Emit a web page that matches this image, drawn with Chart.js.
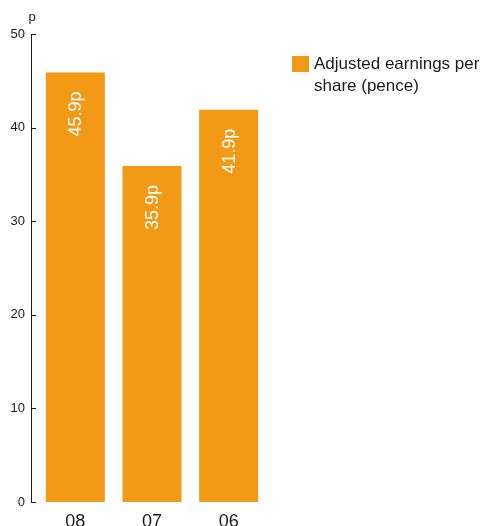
<!DOCTYPE html>
<html>
<head>
<meta charset="utf-8">
<title>Adjusted earnings per share</title>
<script src="https://cdn.jsdelivr.net/npm/chart.js@4.4.0/dist/chart.umd.min.js"></script>
<style>
  html, body { margin: 0; padding: 0; background: #fff; }
  #wrap { width: 482px; height: 526px; }
</style>
</head>
<body>
<div id="wrap"><canvas id="epsChart" width="482" height="526"></canvas></div>
<script>
const years = ["08", "07", "06"];
const epsValues = [45.9, 35.9, 41.9];
const yTicks = [0, 10, 20, 30, 40, 50];
const seriesName = ["Adjusted earnings per", "share (pence)"];

const ORANGE = "#F29A15";
const INK = "#1a1a1a";
const FONT = "'Liberation Sans', Arial, sans-serif";

// axis line with inward tick marks, plus the "p" unit on top
const axisPlugin = {
  id: "axisLine",
  afterDraw(chart) {
    const ctx = chart.ctx;
    const y = chart.scales.y;
    const x0 = chart.chartArea.left - 6;
    ctx.save();
    ctx.strokeStyle = INK;
    ctx.lineWidth = 1;
    ctx.beginPath();
    ctx.moveTo(x0 + 0.5, y.getPixelForValue(50));
    ctx.lineTo(x0 + 0.5, y.getPixelForValue(0));
    yTicks.forEach((t) => {
      const py = Math.round(y.getPixelForValue(t)) + 0.5;
      ctx.moveTo(x0, py);
      ctx.lineTo(x0 + 5, py);
    });
    ctx.stroke();
    ctx.fillStyle = INK;
    ctx.font = "13px " + FONT;
    ctx.textAlign = "center";
    ctx.textBaseline = "bottom";
    ctx.fillText("p", x0 + 1, y.getPixelForValue(50) - 10);
    ctx.restore();
  },
};

// value labels written upwards inside each bar
const valuePlugin = {
  id: "valueLabels",
  afterDatasetsDraw(chart) {
    const ctx = chart.ctx;
    const meta = chart.getDatasetMeta(0);
    ctx.save();
    ctx.fillStyle = "#fff";
    ctx.font = "18px " + FONT;
    ctx.textAlign = "right";
    ctx.textBaseline = "middle";
    meta.data.forEach((bar, i) => {
      ctx.save();
      ctx.translate(bar.x + 1, bar.y + 19);
      ctx.rotate(-Math.PI / 2);
      ctx.fillText(epsValues[i].toFixed(1) + "p", 0, 0);
      ctx.restore();
    });
    ctx.restore();
  },
};

const legendPlugin = {
  id: "sideLegend",
  afterDraw(chart) {
    const ctx = chart.ctx;
    ctx.save();
    ctx.fillStyle = ORANGE;
    ctx.fillRect(292, 56, 17, 16);
    ctx.fillStyle = INK;
    ctx.font = "17px " + FONT;
    ctx.textAlign = "left";
    ctx.textBaseline = "alphabetic";
    seriesName.forEach((line, i) => {
      ctx.fillText(line, 314, 69 + i * 22);
    });
    ctx.restore();
  },
};

new Chart("epsChart", {
  type: "bar",
  data: {
    labels: years,
    datasets: [
      {
        label: seriesName.join(" "),
        data: epsValues,
        backgroundColor: ORANGE,
        borderWidth: 0,
        barPercentage: 0.77,
        categoryPercentage: 1,
      },
    ],
  },
  options: {
    responsive: false,
    animation: false,
    layout: { padding: { top: 34, right: 215, bottom: 0, left: 0 } },
    plugins: {
      legend: { display: false },
      tooltip: { enabled: false },
    },
    scales: {
      x: {
        grid: { display: false, drawTicks: false },
        border: { display: false },
        ticks: { color: INK, font: { family: FONT, size: 18 }, padding: 9 },
        afterFit: (s) => { s.height = 24; },
      },
      y: {
        min: 0,
        max: 50,
        afterBuildTicks: (s) => { s.ticks = yTicks.map((v) => ({ value: v })); },
        grid: { display: false, drawTicks: false },
        border: { display: false },
        ticks: { color: INK, font: { family: FONT, size: 13 }, padding: 12 },
        afterFit: (s) => { s.width = 37; },
      },
    },
  },
  plugins: [axisPlugin, valuePlugin, legendPlugin],
});
</script>
</body>
</html>
